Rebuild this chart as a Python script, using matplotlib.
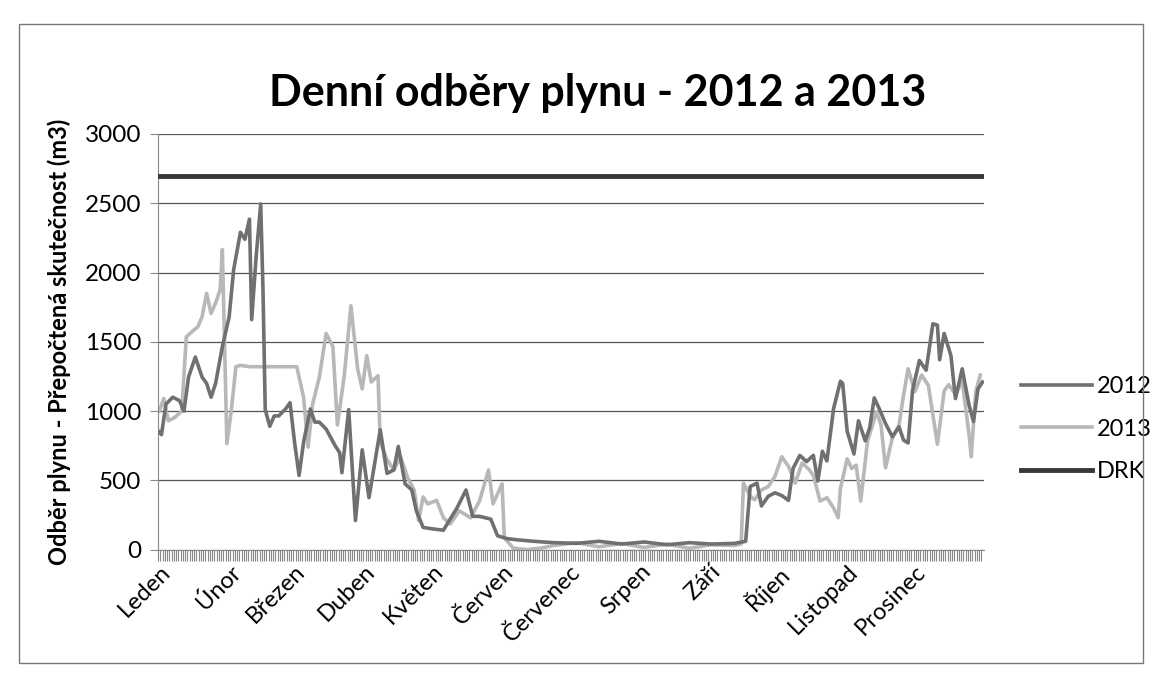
import numpy as np
import matplotlib.pyplot as plt
from matplotlib.patches import Rectangle

plt.rcParams['font.family'] = ['Lato', 'DejaVu Sans']

months = ["Leden", "Únor", "Březen", "Duben", "Květen", "Červen",
          "Červenec", "Srpen", "Září", "Říjen", "Listopad", "Prosinec"]
month_start = [0, 31, 60, 91, 121, 152, 182, 213, 244, 274, 305, 335]
n_days = 366

# 2012 - den v roce / odber (m3)
days_2012 = [0, 1, 3, 6, 9, 11, 13, 16, 19, 21, 23, 25, 28, 31, 33, 36, 38, 40, 41, 43,
             45, 46, 47, 49, 51, 53, 56, 58, 60, 62, 64, 67, 69, 71, 74, 78, 80, 81, 84, 87,
             90, 93, 98, 101, 104, 106, 109, 112, 114, 117, 121, 126, 132, 136, 139, 142, 147, 150, 154, 159,
             166, 175, 185, 195, 205, 215, 225, 235, 245, 255, 260, 262, 265, 267, 270, 273, 276, 279, 281, 284,
             287, 290, 292, 294, 296, 299, 302, 303, 305, 308, 310, 313, 315, 317, 319, 322, 325, 328, 330, 332,
             334, 337, 340, 343, 345, 346, 348, 351, 353, 356, 359, 361, 363, 365]
vals_2012 = [850, 830, 1050, 1100, 1075, 1000, 1245, 1390, 1245, 1200, 1100, 1200, 1465, 1680, 2020, 2290, 2240, 2385, 1660, 2120,
             2495, 1880, 1010, 890, 965, 965, 1015, 1060, 775, 535, 775, 1015, 920, 920, 870, 750, 700, 555, 1010, 210,
             720, 375, 865, 550, 575, 745, 475, 430, 280, 160, 150, 140, 300, 430, 240, 240, 220, 100, 80, 70,
             60, 50, 45, 60, 40, 55, 35, 50, 40, 45, 60, 455, 480, 315, 385, 410, 390, 355, 585, 680,
             635, 680, 495, 710, 640, 1020, 1215, 1200, 855, 690, 930, 785, 880, 1095, 1025, 910, 815, 885, 790, 770,
             1150, 1365, 1295, 1630, 1620, 1370, 1560, 1400, 1090, 1305, 1045, 925, 1160, 1210]

# 2013
days_2013 = [0, 2, 4, 7, 10, 12, 15, 17, 19, 21, 23, 25, 27, 28, 30, 32, 34, 36, 40, 61,
             62, 64, 66, 68, 71, 74, 77, 79, 82, 85, 88, 90, 92, 94, 97, 98, 101, 104, 107, 110,
             113, 115, 117, 119, 123, 126, 129, 133, 138, 142, 146, 148, 152, 153, 157, 163, 169, 175, 185, 195,
             205, 215, 225, 235, 245, 255, 258, 259, 262, 264, 267, 270, 273, 276, 279, 282, 285, 288, 290, 293,
             296, 299, 301, 302, 305, 307, 309, 311, 314, 318, 320, 322, 325, 328, 330, 332, 335, 338, 341, 345,
             348, 350, 353, 356, 359, 360, 362, 364]
vals_2013 = [1000, 1090, 930, 955, 1000, 1535, 1580, 1605, 1680, 1850, 1705, 1780, 1875, 2165, 765, 1010, 1320, 1330, 1320, 1320,
             1245, 1100, 740, 1050, 1245, 1560, 1465, 900, 1250, 1760, 1300, 1160, 1400, 1210, 1255, 770, 650, 575, 670, 525,
             430, 210, 380, 330, 355, 230, 185, 280, 230, 350, 575, 330, 475, 85, 10, 0, 10, 30, 50, 20,
             45, 15, 40, 10, 35, 30, 40, 480, 385, 360, 430, 455, 530, 670, 600, 480, 625, 580, 535, 350,
             375, 300, 230, 440, 655, 585, 610, 350, 780, 995, 900, 590, 805, 900, 1115, 1305, 1140, 1260, 1185, 760,
             1145, 1190, 1120, 1215, 835, 670, 1140, 1260]

drk = 2700

fig = plt.figure(figsize=(11.71, 6.87), dpi=100)
ax = fig.add_axes([0.135, 0.2, 0.705, 0.605])

ax.plot(days_2012, vals_2012, color="#707070", lw=2.6, label="2012", zorder=3)
ax.plot(days_2013, vals_2013, color="#b8b8b8", lw=2.6, label="2013", zorder=2)
ax.plot([0, n_days - 1], [drk, drk], color="#383838", lw=3.5, label="DRK", zorder=4)

ax.set_ylim(0, 3000)
ax.set_yticks(np.arange(0, 3001, 500))
ax.set_xlim(-0.5, n_days - 0.5)
ax.set_xticks(month_start)
ax.set_xticklabels(months, rotation=45, ha="right", rotation_mode="anchor", fontsize=17)
ax.set_xticks(np.arange(n_days) - 0.5, minor=True)
ax.tick_params(axis="x", which="major", length=0, pad=8)
ax.tick_params(axis="x", which="minor", length=8, color="#888888", width=0.8)
ax.tick_params(axis="y", length=6, color="#888888", labelsize=17.5, pad=6)
ax.grid(axis="y", color="#555555", lw=0.9)
ax.set_axisbelow(True)
for s in ["top", "right"]:
    ax.spines[s].set_visible(False)
ax.spines["left"].set_color("#888888")
ax.spines["bottom"].set_color("#888888")

ax.set_ylabel("Odběr plynu - Přepočtená skutečnost (m3)", fontsize=17, fontweight="bold", labelpad=10)
fig.text(0.51, 0.865, "Denní odběry plynu - 2012 a 2013", ha="center", va="center",
         fontsize=31, fontweight="bold")

ax.legend(loc="center left", bbox_to_anchor=(1.02, 0.29), frameon=False, fontsize=17,
          handlelength=3.0, labelspacing=0.9, handletextpad=0.2)

fig.patches.append(Rectangle((0.016, 0.035), 0.96, 0.93, transform=fig.transFigure,
                             fill=False, edgecolor="#777777", lw=1))

fig.savefig("out.png", dpi=100, facecolor="white")
